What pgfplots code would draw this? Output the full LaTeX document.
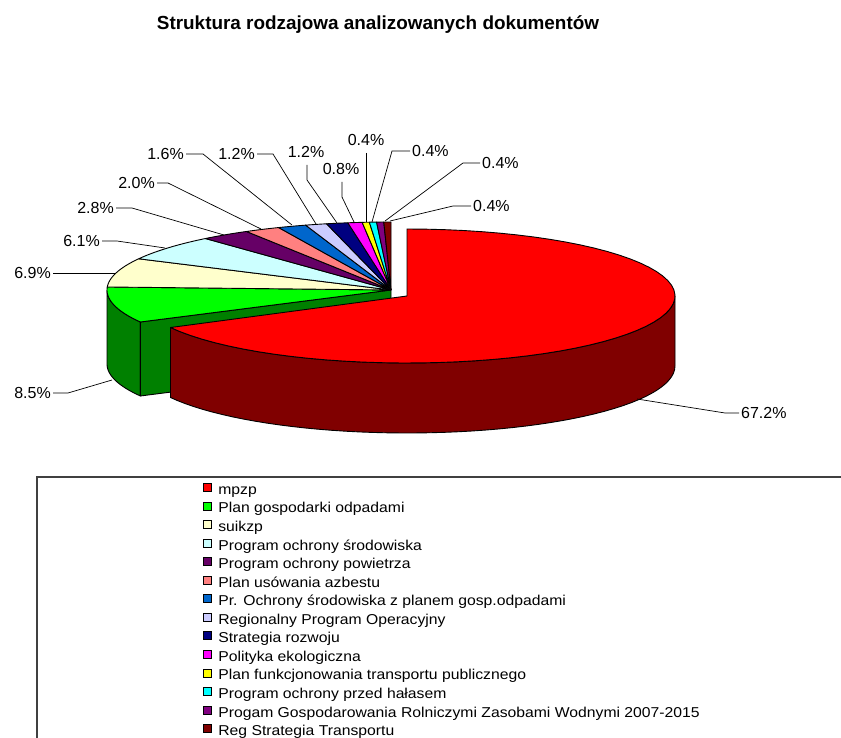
\documentclass[border=0pt]{standalone}
\usepackage{pgfplots}
\pgfplotsset{compat=1.18}
\usepackage{fontspec}
\setmainfont{Liberation Sans}
\newfontfamily\legfont[FakeStretch=1.1]{Liberation Sans}

\definecolor{cRed}{HTML}{FF0000}
\definecolor{cRedS}{HTML}{800000}
\definecolor{cGreen}{HTML}{00FF00}
\definecolor{cGreenS}{HTML}{008000}
\definecolor{cSuik}{HTML}{FFFFCC}
\definecolor{cPOS}{HTML}{CCFFFF}
\definecolor{cPOP}{HTML}{660066}
\definecolor{cAzb}{HTML}{FF8080}
\definecolor{cPr}{HTML}{0066CC}
\definecolor{cRPO}{HTML}{CCCCFF}
\definecolor{cStr}{HTML}{000080}
\definecolor{cPol}{HTML}{FF00FF}
\definecolor{cPlf}{HTML}{FFFF00}
\definecolor{cHal}{HTML}{00FFFF}
\definecolor{cPrg}{HTML}{800080}
\definecolor{cReg}{HTML}{800000}

% document counts (total 247)
\def\N{247}
\def\cA{166}\def\cB{21}\def\cC{17}\def\cD{15}\def\cE{7}\def\cF{5}\def\cG{4}
\def\cH{3}\def\cI{3}\def\cJ{2}\def\cK{1}\def\cL{1}\def\cM{1}\def\cP{1}

\pgfmathsetmacro\unit{360/\N}
\pgfmathsetmacro\aA{90}
\pgfmathsetmacro\aB{\aA-\unit*\cA}
\pgfmathsetmacro\aC{\aB-\unit*\cB}
\pgfmathsetmacro\aD{\aC-\unit*\cC}
\pgfmathsetmacro\aE{\aD-\unit*\cD}
\pgfmathsetmacro\aF{\aE-\unit*\cE}
\pgfmathsetmacro\aG{\aF-\unit*\cF}
\pgfmathsetmacro\aH{\aG-\unit*\cG}
\pgfmathsetmacro\aI{\aH-\unit*\cH}
\pgfmathsetmacro\aJ{\aI-\unit*\cI}
\pgfmathsetmacro\aK{\aJ-\unit*\cJ}
\pgfmathsetmacro\aL{\aK-\unit*\cK}
\pgfmathsetmacro\aM{\aL-\unit*\cL}
\pgfmathsetmacro\aP{\aM-\unit*\cM}
\pgfmathsetmacro\aQ{\aP-\unit*\cP}

% top face of a slice: cx cy a b t1 t2 colour
\newcommand\slicetop[7]{%
 \edef\temp{\noexpand\addplot[forget plot, mark=none, fill=#7, draw=black, line width=0.9pt, line join=round, samples at={-1,0,1,...,60,61}]
 ({#1+(x>=0)*(x<=60)*#3*cos((#5)+x/60*((#6)-(#5)))},
  {#2-(x>=0)*(x<=60)*#4*sin((#5)+x/60*((#6)-(#5)))});}\temp}

% outer wall: cx cy a b h t1 t2 colour
\newcommand\wall[8]{%
 \edef\temp{\noexpand\addplot[forget plot, mark=none, fill=#8, draw=black, line width=0.9pt, line join=round, samples at={0,1,...,102}]
 ({#1+#3*cos(ifthenelse(x<=50,(#6)+x/50*((#7)-(#6)),ifthenelse(x<=101,(#7)-(x-51)/50*((#7)-(#6)),#6)))},
  {#2-#4*sin(ifthenelse(x<=50,(#6)+x/50*((#7)-(#6)),ifthenelse(x<=101,(#7)-(x-51)/50*((#7)-(#6)),#6)))+(x>50)*(x<=101)*#5});}\temp}

% radial wall: cx cy a b h t colour
\newcommand\radwall[7]{%
 \edef\temp{\noexpand\addplot[forget plot, mark=none, fill=#7, draw=black, line width=0.9pt, line join=round, samples at={0,1,2,3,4}]
 ({#1+((x==1)+(x==2))*#3*cos(#6)}, {#2-((x==1)+(x==2))*#4*sin(#6)+((x==2)+(x==3))*#5});}\temp}

\newcommand\lab{\fontsize{16}{18}\selectfont}

\begin{document}
\begin{tikzpicture}
\useasboundingbox (0,0) rectangle (841pt,738pt);
\begin{axis}[at={(0,0)}, anchor=south west, scale only axis,
  width=841pt, height=738pt, xmin=0, xmax=841, ymin=0, ymax=738,
  y dir=reverse, hide axis, clip=false,
  legend style={at={(axis cs:203,483)}, anchor=north west, draw=none, fill=none,
    inner sep=0pt, outer sep=0pt, font=\legfont\fontsize{14.3}{16}\selectfont,
    row sep=4.15pt, nodes={inner sep=0pt, text height=10pt, text depth=3pt}},
  legend cell align=left,
  legend image code/.code={\draw[#1, draw=black, line width=0.8pt] (0pt,-0.5pt) rectangle (8pt,7.5pt);},
  /tikz/every odd column/.append style={column sep=6.5pt}]

% legend entries
\addlegendimage{fill=cRed}\addlegendentry{mpzp}
\addlegendimage{fill=cGreen}\addlegendentry{Plan gospodarki odpadami}
\addlegendimage{fill=cSuik}\addlegendentry{suikzp}
\addlegendimage{fill=cPOS}\addlegendentry{Program ochrony środowiska}
\addlegendimage{fill=cPOP}\addlegendentry{Program ochrony powietrza}
\addlegendimage{fill=cAzb}\addlegendentry{Plan usówania azbestu}
\addlegendimage{fill=cPr}\addlegendentry{Pr. Ochrony środowiska z planem gosp.odpadami}
\addlegendimage{fill=cRPO}\addlegendentry{Regionalny Program Operacyjny}
\addlegendimage{fill=cStr}\addlegendentry{Strategia rozwoju}
\addlegendimage{fill=cPol}\addlegendentry{Polityka ekologiczna}
\addlegendimage{fill=cPlf}\addlegendentry{Plan funkcjonowania transportu publicznego}
\addlegendimage{fill=cHal}\addlegendentry{Program ochrony przed hałasem}
\addlegendimage{fill=cPrg}\addlegendentry{Progam Gospodarowania Rolniczymi Zasobami Wodnymi 2007-2015}
\addlegendimage{fill=cReg}\addlegendentry{Reg Strategia Transportu}

% legend frame
\addplot[forget plot, mark=none, color=black!75, line width=1.2pt] coordinates {(37,738) (37,477) (841,477)};

% pie: walls of the green slice
\wall{391}{290}{284}{68}{74}{-180}{\aB}{cGreenS}
\radwall{391}{290}{284}{68}{74}{\aB}{cGreenS}
% top faces of the non-exploded slices
\slicetop{391}{290}{284}{68}{\aB}{\aC}{cGreen}
\slicetop{391}{290}{284}{68}{\aC}{\aD}{cSuik}
\slicetop{391}{290}{284}{68}{\aD}{\aE}{cPOS}
\slicetop{391}{290}{284}{68}{\aE}{\aF}{cPOP}
\slicetop{391}{290}{284}{68}{\aF}{\aG}{cAzb}
\slicetop{391}{290}{284}{68}{\aG}{\aH}{cPr}
\slicetop{391}{290}{284}{68}{\aH}{\aI}{cRPO}
\slicetop{391}{290}{284}{68}{\aI}{\aJ}{cStr}
\slicetop{391}{290}{284}{68}{\aJ}{\aK}{cPol}
\slicetop{391}{290}{284}{68}{\aK}{\aL}{cPlf}
\slicetop{391}{290}{284}{68}{\aL}{\aM}{cHal}
\slicetop{391}{290}{284}{68}{\aM}{\aP}{cPrg}
\slicetop{391}{290}{284}{68}{\aP}{\aQ}{cReg}
% exploded red slice
\wall{407}{296}{268}{67}{70}{\aB}{0}{cRedS}
\slicetop{407}{296}{268}{67}{\aA}{\aB}{cRed}

% leader lines
\addplot[forget plot, mark=none, black, line width=0.7pt] coordinates {(637,399) (725,413) (739,413)};
\addplot[forget plot, mark=none, black, line width=0.7pt] coordinates {(53,393) (68,393) (112,380)};
\addplot[forget plot, mark=none, black, line width=0.7pt] coordinates {(53,273) (116,273)};
\addplot[forget plot, mark=none, black, line width=0.7pt] coordinates {(102,241) (117,241) (165,248)};
\addplot[forget plot, mark=none, black, line width=0.7pt] coordinates {(116,208) (132,208) (224,235)};
\addplot[forget plot, mark=none, black, line width=0.7pt] coordinates {(157,183) (168,183) (261,229)};
\addplot[forget plot, mark=none, black, line width=0.7pt] coordinates {(186,154) (203,154) (292,225)};
\addplot[forget plot, mark=none, black, line width=0.7pt] coordinates {(257,154) (273,154) (316,224)};
\addplot[forget plot, mark=none, black, line width=0.7pt] coordinates {(307,165) (307,180) (337,223)};
\addplot[forget plot, mark=none, black, line width=0.7pt] coordinates {(342,182) (342,197) (354,222)};
\addplot[forget plot, mark=none, black, line width=0.7pt] coordinates {(366,153) (366,222)};
\addplot[forget plot, mark=none, black, line width=0.7pt] coordinates {(410,151) (392,151) (372,222)};
\addplot[forget plot, mark=none, black, line width=0.7pt] coordinates {(480,163) (463,163) (385,221)};
\addplot[forget plot, mark=none, black, line width=0.7pt] coordinates {(471,206) (453,206) (390,221)};

% data labels
\node[anchor=west, font=\lab, inner sep=0pt] at (axis cs:741,413) {67.2\%};
\node[anchor=east, font=\lab, inner sep=0pt] at (axis cs:51,393) {8.5\%};
\node[anchor=east, font=\lab, inner sep=0pt] at (axis cs:51,273) {6.9\%};
\node[anchor=east, font=\lab, inner sep=0pt] at (axis cs:100,241) {6.1\%};
\node[anchor=east, font=\lab, inner sep=0pt] at (axis cs:114,208) {2.8\%};
\node[anchor=east, font=\lab, inner sep=0pt] at (axis cs:155,183) {2.0\%};
\node[anchor=east, font=\lab, inner sep=0pt] at (axis cs:184,154) {1.6\%};
\node[anchor=east, font=\lab, inner sep=0pt] at (axis cs:255,154) {1.2\%};
\node[font=\lab, inner sep=0pt] at (axis cs:306,152) {1.2\%};
\node[font=\lab, inner sep=0pt] at (axis cs:341,169) {0.8\%};
\node[font=\lab, inner sep=0pt] at (axis cs:366,140) {0.4\%};
\node[anchor=west, font=\lab, inner sep=0pt] at (axis cs:412,151) {0.4\%};
\node[anchor=west, font=\lab, inner sep=0pt] at (axis cs:482,163) {0.4\%};
\node[anchor=west, font=\lab, inner sep=0pt] at (axis cs:473,206) {0.4\%};

% title
\node[font=\fontsize{18.9}{22}\selectfont\bfseries, inner sep=0pt] at (axis cs:378,25) {Struktura rodzajowa analizowanych dokumentów};
\end{axis}
\end{tikzpicture}
\end{document}
